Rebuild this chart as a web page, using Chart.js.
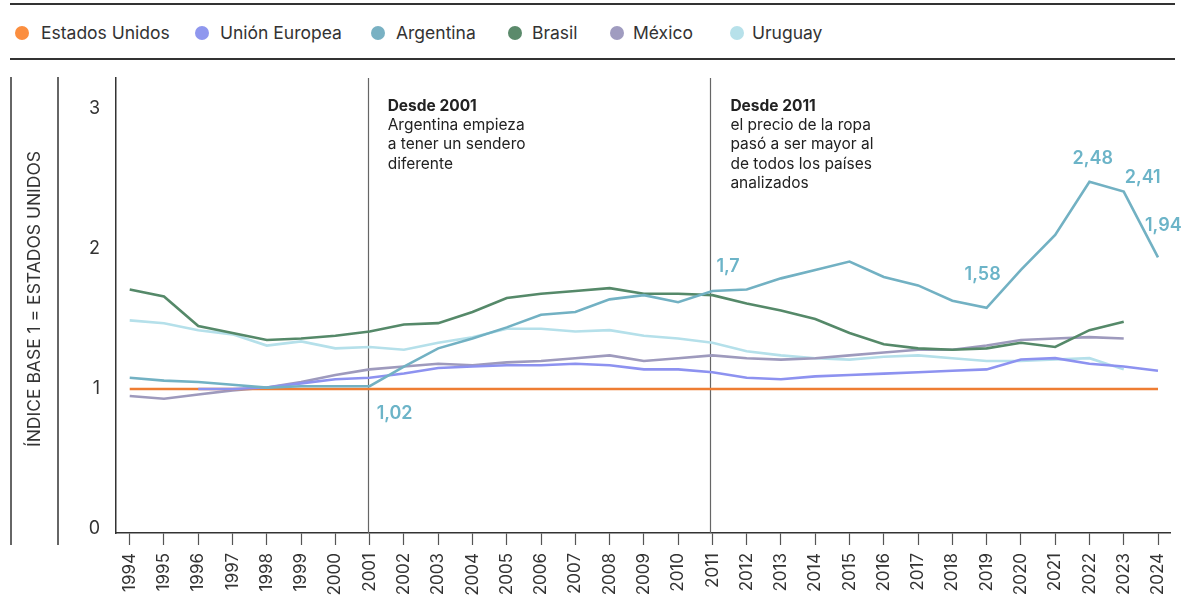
<!DOCTYPE html>
<html lang="es">
<head>
  <meta charset="UTF-8" />
  <title>Precio de la ropa - índice base 1 = Estados Unidos</title>
  <script src="https://cdn.jsdelivr.net/npm/chart.js"></script>
  <style>
    html, body { margin: 0; padding: 0; background: #fff; }
    #wrap { position: relative; width: 1190px; height: 600px; font-family: Inter, "Liberation Sans", sans-serif; color: #333; }
    .rule { position: absolute; left: 10px; width: 1165px; border-top: 2px solid #333; }
    .dot { position: absolute; top: 26px; width: 14px; height: 14px; border-radius: 50%; }
    .lbl { position: absolute; top: 22px; line-height: 22px; font-size: 17.5px; white-space: nowrap; color: #333; }
    canvas { position: absolute; left: 0; top: 0; }
  </style>
</head>
<body>
  <div id="wrap">
    <div class="rule" style="top:3px"></div>
    <div class="rule" style="top:58px"></div>
    <div id="legend"></div>
    <canvas id="grafico" width="1190" height="600"></canvas>
  </div>

  <script>
    // --- datos ---
    const years = [1994, 1995, 1996, 1997, 1998, 1999, 2000, 2001, 2002, 2003, 2004, 2005, 2006, 2007, 2008, 2009,
                   2010, 2011, 2012, 2013, 2014, 2015, 2016, 2017, 2018, 2019, 2020, 2021, 2022, 2023, 2024];
    const estadosUnidos = [1, 1, 1, 1, 1, 1, 1, 1, 1, 1, 1, 1, 1, 1, 1, 1,
                           1, 1, 1, 1, 1, 1, 1, 1, 1, 1, 1, 1, 1, 1, 1];
    const unionEuropea = [null, null, 1.00, 1.00, 1.01, 1.04, 1.07, 1.08, 1.11, 1.15, 1.16, 1.17, 1.17, 1.18, 1.17, 1.14,
                          1.14, 1.12, 1.08, 1.07, 1.09, 1.10, 1.11, 1.12, 1.13, 1.14, 1.21, 1.22, 1.18, 1.16, 1.13];
    const argentina = [1.08, 1.06, 1.05, 1.03, 1.01, 1.02, 1.02, 1.02, 1.16, 1.29, 1.36, 1.44, 1.53, 1.55, 1.64, 1.67,
                       1.62, 1.70, 1.71, 1.79, 1.85, 1.91, 1.80, 1.74, 1.63, 1.58, 1.85, 2.10, 2.48, 2.41, 1.94];
    const brasil = [1.71, 1.66, 1.45, 1.40, 1.35, 1.36, 1.38, 1.41, 1.46, 1.47, 1.55, 1.65, 1.68, 1.70, 1.72, 1.68,
                    1.68, 1.67, 1.61, 1.56, 1.50, 1.40, 1.32, 1.29, 1.28, 1.29, 1.33, 1.30, 1.42, 1.48, null];
    const mexico = [0.95, 0.93, 0.96, 0.99, 1.01, 1.05, 1.10, 1.14, 1.16, 1.18, 1.17, 1.19, 1.20, 1.22, 1.24, 1.20,
                    1.22, 1.24, 1.22, 1.21, 1.22, 1.24, 1.26, 1.28, 1.28, 1.31, 1.35, 1.36, 1.37, 1.36, null];
    const uruguay = [1.49, 1.47, 1.42, 1.39, 1.31, 1.34, 1.29, 1.30, 1.28, 1.33, 1.37, 1.43, 1.43, 1.41, 1.42, 1.38,
                     1.36, 1.33, 1.27, 1.24, 1.22, 1.21, 1.23, 1.24, 1.22, 1.20, 1.20, 1.21, 1.22, 1.14, null];
    const yTicks = [0, 1, 2, 3];
    const labeledYears = [2001, 2011, 2019, 2022, 2023, 2024];   // valores de Argentina rotulados
    const yTitle = 'ÍNDICE BASE 1 = ESTADOS UNIDOS';
    const notas = [
      { year: 2001, title: 'Desde 2001', lines: ['Argentina empieza', 'a tener un sendero', 'diferente'] },
      { year: 2011, title: 'Desde 2011', lines: ['el precio de la ropa', 'pasó a ser mayor al', 'de todos los países', 'analizados'] }
    ];

    const series = [
      { name: 'Estados Unidos', values: estadosUnidos, color: '#ee7d33', dot: '#fb8e3f', order: 3 },
      { name: 'Unión Europea', values: unionEuropea, color: '#8d92f0', dot: '#8f97ee', order: 2 },
      { name: 'Argentina', values: argentina, color: '#72b1c3', dot: '#79b1c3', order: 1 },
      { name: 'Brasil', values: brasil, color: '#558969', dot: '#5b8a6b', order: 4 },
      { name: 'México', values: mexico, color: '#9e9abd', dot: '#a09cc0', order: 5 },
      { name: 'Uruguay', values: uruguay, color: '#b5e0ea', dot: '#b7e1ea', order: 6 }
    ];

    // --- leyenda ---
    const legendDotX = [22, 202, 378, 515, 617, 737];
    const legendTextX = [41, 220, 396, 532, 633, 752];
    const legend = document.getElementById('legend');
    series.forEach((s, i) => {
      const d = document.createElement('div');
      d.className = 'dot';
      d.style.left = (legendDotX[i] - 7) + 'px';
      d.style.background = s.dot;
      legend.appendChild(d);
      const t = document.createElement('div');
      t.className = 'lbl';
      t.style.left = legendTextX[i] + 'px';
      t.textContent = s.name;
      legend.appendChild(t);
    });

    // --- dibujos extra ---
    const extras = {
      id: 'extras',
      beforeDatasetsDraw(chart) {
        const { ctx, chartArea, scales: { x } } = chart;
        ctx.save();
        ctx.strokeStyle = '#666';
        ctx.lineWidth = 1.2;
        notas.forEach(n => {
          const px = Math.round(x.getPixelForValue(n.year)) - 1.5;
          ctx.beginPath();
          ctx.moveTo(px, chartArea.top);
          ctx.lineTo(px, chartArea.bottom);
          ctx.stroke();
        });
        ctx.restore();
      },
      afterDraw(chart) {
        const { ctx, scales: { x } } = chart;
        ctx.save();

        // marco del título del eje
        ctx.strokeStyle = '#333';
        ctx.lineWidth = 1.5;
        [11, 58].forEach(px => {
          ctx.beginPath();
          ctx.moveTo(px, 77);
          ctx.lineTo(px, 545);
          ctx.stroke();
        });

        // título del eje y
        ctx.save();
        ctx.translate(35, 299);
        ctx.rotate(-Math.PI / 2);
        ctx.textAlign = 'center';
        ctx.textBaseline = 'middle';
        ctx.font = '17.5px Inter';
        ctx.fillStyle = '#333';
        ctx.fillText(yTitle, 0, 0);
        ctx.restore();

        // notas
        ctx.textAlign = 'left';
        ctx.textBaseline = 'middle';
        ctx.fillStyle = '#222';
        notas.forEach(n => {
          const left = x.getPixelForValue(n.year) + 18;
          ctx.font = '700 15.5px Inter';
          ctx.fillText(n.title, left, 106);
          ctx.font = '15.5px Inter';
          n.lines.forEach((l, i) => ctx.fillText(l, left, 106 + 19.3 * (i + 1)));
        });

        // valores de Argentina
        const argIdx = series.findIndex(s => s.name === 'Argentina');
        const meta = chart.getDatasetMeta(argIdx);
        const offsets = { 2001: [7, 27], 2011: [4, -24], 2019: [-22, -33], 2022: [-17, -23], 2023: [1, -14], 2024: [-13, -32] };
        ctx.font = '600 18px Inter';
        ctx.fillStyle = '#6cb4c8';
        labeledYears.forEach(yr => {
          const i = years.indexOf(yr);
          const pt = meta.data[i];
          const [dx, dy] = offsets[yr];
          ctx.fillText(String(argentina[i]).replace('.', ','), pt.x + dx, pt.y + dy);
        });

        ctx.restore();
      }
    };

    new Chart(document.getElementById('grafico'), {
      type: 'line',
      data: {
        datasets: series.map(s => ({
          label: s.name,
          data: years.map((yr, i) => ({ x: yr, y: s.values[i] })),
          borderColor: s.color,
          backgroundColor: s.color,
          borderWidth: 2.6,
          pointRadius: 0,
          tension: 0,
          order: s.order
        }))
      },
      options: {
        responsive: false,
        animation: false,
        layout: { padding: { top: 78, right: 20, left: 0, bottom: 0 } },
        plugins: { legend: { display: false }, tooltip: { enabled: false } },
        scales: {
          x: {
            type: 'linear',
            min: 1993.6,
            max: 2024.35,
            afterFit: scale => { scale.height = 67; },
            afterBuildTicks: scale => { scale.ticks = years.map(v => ({ value: v })); },
            grid: { display: true, drawOnChartArea: false, drawTicks: true, tickLength: 12, tickColor: '#555', tickWidth: 1.2 },
            border: { display: true, color: '#333', width: 1.5 },
            ticks: {
              autoSkip: false,
              minRotation: 90,
              maxRotation: 90,
              padding: 8,
              color: '#333',
              font: { family: 'Inter', size: 17 },
              callback: v => String(v)
            }
          },
          y: {
            min: -0.0286,
            max: 3.221,
            afterFit: scale => { scale.width = 116; },
            afterBuildTicks: scale => { scale.ticks = yTicks.map(v => ({ value: v })); },
            grid: { display: true, drawOnChartArea: false, drawTicks: false },
            border: { display: true, color: '#333', width: 1.5 },
            ticks: {
              padding: 16,
              color: '#333',
              font: { family: 'Inter', size: 18 },
              callback: v => String(v)
            }
          }
        }
      },
      plugins: [extras]
    });
  </script>
</body>
</html>
